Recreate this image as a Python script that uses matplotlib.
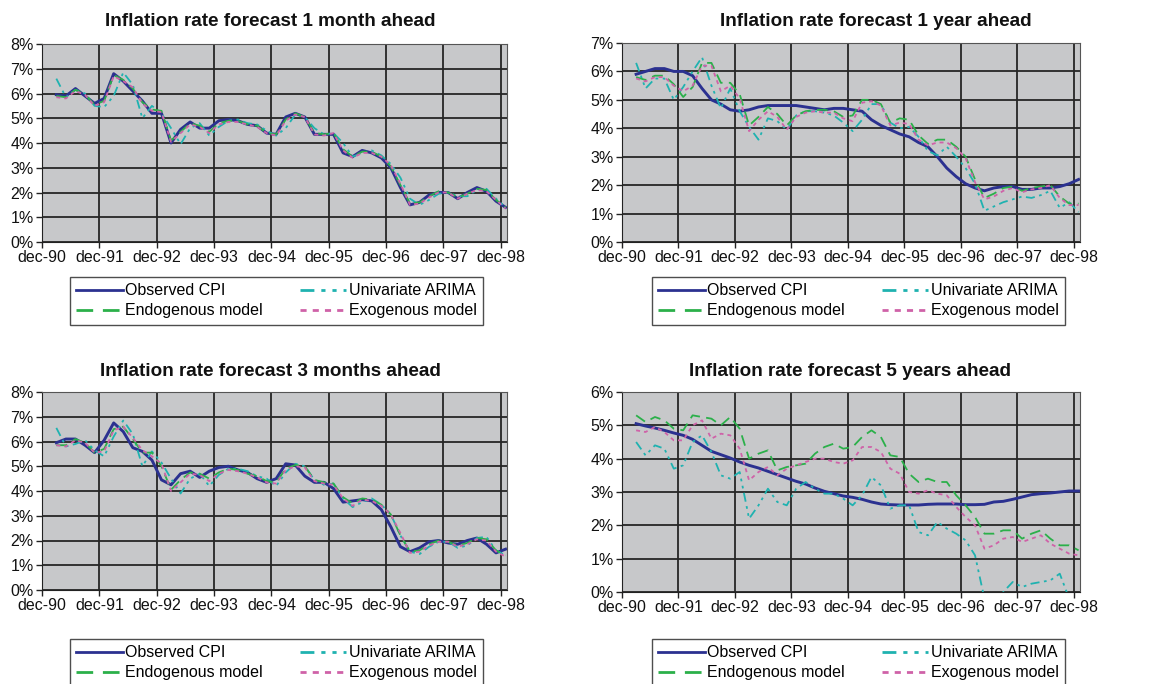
"""
Inflation rate forecasts at four horizons: observed CPI against
univariate ARIMA, endogenous and exogenous model forecasts.
"""
import matplotlib
matplotlib.use("Agg")
import matplotlib.pyplot as plt
from matplotlib.ticker import FuncFormatter

plt.rcParams["font.family"] = ["Liberation Sans", "DejaVu Sans"]

# Months counted from dec-90, one observation every two months
MONTHS = list(range(3, 98, 2))
YEAR_TICKS = [0, 12, 24, 36, 48, 60, 72, 84, 96]
YEAR_LABELS = ["dec-90", "dec-91", "dec-92", "dec-93", "dec-94",
               "dec-95", "dec-96", "dec-97", "dec-98"]

SERIES_NAMES = ["Observed CPI", "Univariate ARIMA",
                "Endogenous model", "Exogenous model"]

# --- 1 month ahead -------------------------------------------------------
m1_observed = [5.95, 5.9, 6.2, 5.9, 5.6, 5.8, 6.8, 6.5, 6.1, 5.7, 5.2, 5.2,
               4.0, 4.55, 4.85, 4.6, 4.6, 4.9, 4.95, 4.9, 4.75, 4.7, 4.4, 4.35,
               5.05, 5.2, 5.05, 4.35, 4.35, 4.35, 3.6, 3.45, 3.7, 3.6, 3.4, 3.0,
               2.2, 1.5, 1.6, 1.9, 2.0, 2.0, 1.75, 2.0, 2.2, 2.05, 1.65, 1.4]
m1_arima = [6.6, 5.85, 6.15, 6.0, 5.5, 5.45, 5.9, 6.85, 6.35, 5.0, 5.5, 5.2,
            4.6, 3.95, 4.6, 4.8, 4.3, 4.65, 4.9, 4.95, 4.8, 4.75, 4.5, 4.3,
            4.6, 5.15, 5.05, 4.6, 4.35, 4.4, 4.0, 3.45, 3.6, 3.7, 3.5, 3.15,
            2.6, 1.75, 1.5, 1.7, 1.95, 2.0, 1.85, 1.85, 2.1, 2.15, 1.75, 1.4]
m1_endo = [5.9, 5.85, 6.15, 5.95, 5.55, 5.7, 6.75, 6.55, 6.2, 5.65, 5.35, 5.3,
           4.1, 4.45, 4.8, 4.7, 4.45, 4.8, 4.9, 4.9, 4.75, 4.7, 4.4, 4.35,
           4.95, 5.2, 5.05, 4.4, 4.35, 4.4, 3.75, 3.45, 3.65, 3.65, 3.45, 3.05,
           2.3, 1.55, 1.6, 1.85, 2.05, 2.0, 1.8, 1.95, 2.15, 2.1, 1.7, 1.4]
m1_exo = [5.85, 5.8, 6.1, 5.95, 5.5, 5.65, 6.7, 6.5, 6.25, 5.6, 5.3, 5.25,
          4.05, 4.4, 4.75, 4.65, 4.4, 4.75, 4.85, 4.85, 4.75, 4.65, 4.4, 4.3,
          4.9, 5.15, 5.05, 4.35, 4.3, 4.4, 3.7, 3.4, 3.6, 3.6, 3.45, 3.1,
          2.35, 1.5, 1.55, 1.8, 2.0, 2.0, 1.75, 1.95, 2.1, 2.05, 1.7, 1.35]

# --- 1 year ahead --------------------------------------------------------
y1_observed = [5.9, 6.0, 6.1, 6.1, 6.0, 6.0, 5.85, 5.4, 5.0, 4.85, 4.65, 4.6,
               4.65, 4.75, 4.8, 4.8, 4.8, 4.8, 4.75, 4.7, 4.65, 4.7, 4.7, 4.65,
               4.6, 4.3, 4.1, 3.95, 3.8, 3.7, 3.5, 3.35, 3.0, 2.6, 2.3, 2.05,
               1.9, 1.8, 1.9, 1.95, 1.95, 1.85, 1.85, 1.9, 1.9, 1.95, 2.05, 2.2]
y1_arima = [6.3, 5.4, 5.75, 5.75, 5.0, 5.45, 6.0, 6.5, 5.5, 4.7, 5.4, 4.6,
            4.05, 3.6, 4.35, 4.25, 3.95, 4.45, 4.6, 4.6, 4.55, 4.45, 4.2, 3.9,
            4.3, 4.85, 4.85, 4.2, 4.0, 4.05, 3.7, 3.2, 3.05, 3.35, 3.0, 2.6,
            2.05, 1.1, 1.25, 1.4, 1.5, 1.6, 1.55, 1.65, 1.8, 1.2, 1.4, 1.05]
y1_endo = [5.8, 5.7, 5.85, 5.85, 5.55, 5.1, 5.45, 6.3, 6.3, 5.6, 5.6, 5.2,
           4.1, 4.4, 4.75, 4.5, 4.1, 4.45, 4.6, 4.65, 4.65, 4.6, 4.4, 4.45,
           5.0, 5.0, 4.85, 4.2, 4.35, 4.3, 3.75, 3.45, 3.6, 3.6, 3.35, 3.0,
           2.2, 1.55, 1.7, 1.9, 1.95, 1.8, 1.9, 1.95, 2.0, 1.6, 1.35, 1.35]
y1_exo = [5.75, 5.65, 5.8, 5.8, 5.5, 5.3, 5.5, 6.2, 6.2, 5.3, 5.5, 5.05,
          3.9, 4.3, 4.6, 4.4, 3.95, 4.4, 4.55, 4.6, 4.55, 4.55, 4.35, 4.25,
          4.9, 4.95, 4.8, 4.1, 4.2, 4.15, 3.6, 3.4, 3.5, 3.5, 3.3, 2.95,
          2.1, 1.5, 1.6, 1.8, 1.9, 1.75, 1.85, 1.9, 2.0, 1.55, 1.3, 1.3]

# --- 3 months ahead ------------------------------------------------------
m3_observed = [5.95, 6.1, 6.1, 5.85, 5.55, 6.05, 6.75, 6.4, 5.75, 5.6, 5.25, 4.45,
               4.25, 4.7, 4.8, 4.55, 4.8, 4.95, 5.0, 4.85, 4.75, 4.5, 4.35, 4.5,
               5.1, 5.05, 4.6, 4.35, 4.35, 4.1, 3.55, 3.6, 3.65, 3.6, 3.25, 2.55,
               1.75, 1.55, 1.7, 1.95, 2.0, 1.9, 1.85, 2.0, 2.1, 1.85, 1.5, 1.65]
m3_arima = [6.55, 5.8, 5.9, 6.05, 5.65, 5.4, 6.2, 6.85, 6.3, 5.0, 5.6, 5.15,
            4.5, 3.9, 4.5, 4.7, 4.2, 4.65, 4.9, 4.9, 4.8, 4.6, 4.5, 4.2,
            4.75, 5.1, 5.0, 4.45, 4.25, 4.3, 3.7, 3.35, 3.55, 3.7, 3.45, 3.05,
            2.2, 1.55, 1.45, 1.75, 1.95, 1.95, 1.7, 1.8, 2.1, 2.15, 1.6, 1.4]
m3_endo = [5.85, 5.85, 6.1, 5.95, 5.55, 5.7, 6.5, 6.6, 6.1, 5.55, 5.55, 5.0,
           4.05, 4.45, 4.75, 4.7, 4.5, 4.75, 4.9, 4.85, 4.7, 4.6, 4.4, 4.35,
           4.9, 5.05, 5.0, 4.45, 4.35, 4.3, 3.75, 3.5, 3.7, 3.65, 3.45, 3.05,
           2.2, 1.55, 1.6, 1.85, 2.0, 1.95, 1.8, 1.9, 2.1, 2.05, 1.6, 1.4]
m3_exo = [5.85, 5.8, 6.05, 5.95, 5.55, 5.6, 6.45, 6.6, 6.15, 5.65, 5.4, 5.1,
          4.0, 4.35, 4.7, 4.65, 4.4, 4.7, 4.85, 4.8, 4.7, 4.55, 4.35, 4.3,
          4.85, 5.0, 4.95, 4.4, 4.3, 4.25, 3.7, 3.4, 3.65, 3.6, 3.4, 3.05,
          2.3, 1.5, 1.55, 1.8, 1.95, 1.95, 1.75, 1.85, 2.05, 2.0, 1.55, 1.35]

# --- 5 years ahead -------------------------------------------------------
y5_observed = [5.05, 4.98, 4.92, 4.85, 4.77, 4.7, 4.58, 4.4, 4.22, 4.12, 4.02, 3.9,
               3.8, 3.72, 3.62, 3.52, 3.42, 3.32, 3.24, 3.12, 3.02, 2.95, 2.88, 2.84,
               2.78, 2.7, 2.64, 2.62, 2.61, 2.61, 2.61, 2.63, 2.64, 2.64, 2.64, 2.62,
               2.62, 2.63, 2.7, 2.72, 2.78, 2.85, 2.92, 2.95, 2.97, 3.0, 3.03, 3.03]
y5_arima = [4.5, 4.1, 4.4, 4.3, 3.7, 3.8, 4.5, 4.7, 4.2, 3.5, 3.4, 3.6,
            2.2, 2.6, 3.1, 2.7, 2.6, 3.1, 3.3, 3.1, 2.95, 2.95, 2.8, 2.6,
            2.9, 3.45, 3.2, 2.5, 2.6, 2.6, 1.8, 1.7, 2.1, 1.9, 1.75, 1.55,
            1.1, -0.2, -0.4, 0.0, 0.3, 0.15, 0.25, 0.3, 0.35, 0.55, -0.2, -0.5]
y5_endo = [5.3, 5.1, 5.25, 5.15, 4.9, 4.85, 5.3, 5.25, 5.2, 5.0, 5.25, 4.9,
           4.0, 4.15, 4.25, 3.65, 3.75, 3.8, 3.85, 4.15, 4.35, 4.45, 4.3, 4.35,
           4.65, 4.85, 4.65, 4.1, 4.05, 3.55, 3.3, 3.4, 3.3, 3.3, 2.9, 2.6,
           2.25, 1.75, 1.75, 1.85, 1.85, 1.6, 1.75, 1.85, 1.6, 1.4, 1.4, 1.25]
y5_exo = [4.85, 4.8, 4.95, 4.8, 4.55, 4.55, 5.0, 5.15, 4.6, 4.75, 4.7, 4.3,
          3.35, 3.6, 3.75, 3.5, 3.7, 3.8, 3.9, 4.0, 4.0, 3.9, 3.85, 3.95,
          4.35, 4.35, 4.2, 3.7, 3.55, 3.0, 2.95, 3.05, 2.95, 2.9, 2.55, 2.25,
          2.0, 1.3, 1.4, 1.6, 1.65, 1.5, 1.6, 1.7, 1.45, 1.3, 1.15, 1.1]

# Line styles per series: (colour, width, dash pattern)
STYLES = [
    ("#2b3190", 2.1, "-"),
    ("#1fb2b0", 1.3, (0, (5, 2.5, 1.5, 2.5, 1.5, 2.5))),
    ("#2bb04a", 1.3, (0, (6, 3.5))),
    ("#cf62a8", 1.3, (0, (2.2, 2.2))),
]

PLOT_BG = "#c7c8ca"
GRID_COLOR = "#262626"

# Panel layout in pixel units of a 1149x684 canvas: axes box, title centre, legend box
W, H = 1149, 684
PANELS = [
    dict(title="Inflation rate forecast 1 month ahead", ymax=8,
         series=[m1_observed, m1_arima, m1_endo, m1_exo],
         box=(42, 44, 507, 242), title_xy=(270, 21), legend=(70, 277, 483, 323)),
    dict(title="Inflation rate forecast 1 year ahead", ymax=7,
         series=[y1_observed, y1_arima, y1_endo, y1_exo],
         box=(622, 43, 1080, 242), title_xy=(876, 21), legend=(652, 277, 1065, 323)),
    dict(title="Inflation rate forecast 3 months ahead", ymax=8,
         series=[m3_observed, m3_arima, m3_endo, m3_exo],
         box=(42, 392, 507, 590), title_xy=(270, 371), legend=(70, 639, 483, 685)),
    dict(title="Inflation rate forecast 5 years ahead", ymax=6,
         series=[y5_observed, y5_arima, y5_endo, y5_exo],
         box=(622, 392, 1080, 592), title_xy=(850, 371), legend=(652, 639, 1065, 700)),
]


def draw_panel(fig, p):
    x0, y0, x1, y1 = p["box"]
    ax = fig.add_axes([x0 / W, 1 - y1 / H, (x1 - x0) / W, (y1 - y0) / H])
    ax.set_facecolor(PLOT_BG)

    lines = []
    for values, name, (color, lw, ls) in zip(p["series"], SERIES_NAMES, STYLES):
        (ln,) = ax.plot(MONTHS, values, color=color, lw=lw, ls=ls, label=name)
        lines.append(ln)

    ax.set_xlim(0, 97.3)
    ax.set_ylim(0, p["ymax"])
    ax.set_xticks(YEAR_TICKS)
    ax.set_xticklabels(YEAR_LABELS)
    ax.set_yticks(range(0, p["ymax"] + 1))
    ax.yaxis.set_major_formatter(FuncFormatter(lambda v, _: f"{v:.0f}%"))
    ax.tick_params(labelsize=11.5, length=4, width=1, color="#222222",
                   direction="out", pad=2, labelcolor="#111111")
    ax.grid(True, color=GRID_COLOR, lw=1.3)
    ax.set_axisbelow(True)
    for s in ax.spines.values():
        s.set_color("#555555")
        s.set_linewidth(0.8)
    ax.spines["left"].set_color("#222222")
    ax.spines["bottom"].set_color("#222222")

    tx, ty = p["title_xy"]
    fig.text(tx / W, 1 - ty / H, p["title"], ha="center", va="center",
             fontsize=13.6, fontweight="bold", color="#111111")

    lx0, ly0, lx1, ly1 = p["legend"]
    # column-first fill: Observed/Endogenous on the left, ARIMA/Exogenous on the right
    order = [lines[0], lines[2], lines[1], lines[3]]
    leg = fig.legend(order, [l.get_label() for l in order], ncol=2,
                     loc="upper left", mode="expand",
                     bbox_to_anchor=(lx0 / W, 1 - ly1 / H, (lx1 - lx0) / W, (ly1 - ly0) / H),
                     fontsize=11.5, frameon=True, fancybox=False, edgecolor="#222222",
                     handlelength=2.9, handletextpad=0.15, borderpad=0.4,
                     labelspacing=0.3, borderaxespad=0.0)
    leg.get_frame().set_linewidth(1.0)
    for h in leg.get_lines():
        h.set_linewidth(2.0)


fig = plt.figure(figsize=(W / 100, H / 100), dpi=100)
fig.patch.set_facecolor("white")
for panel in PANELS:
    draw_panel(fig, panel)

fig.savefig("out.png", dpi=100, facecolor="white")
